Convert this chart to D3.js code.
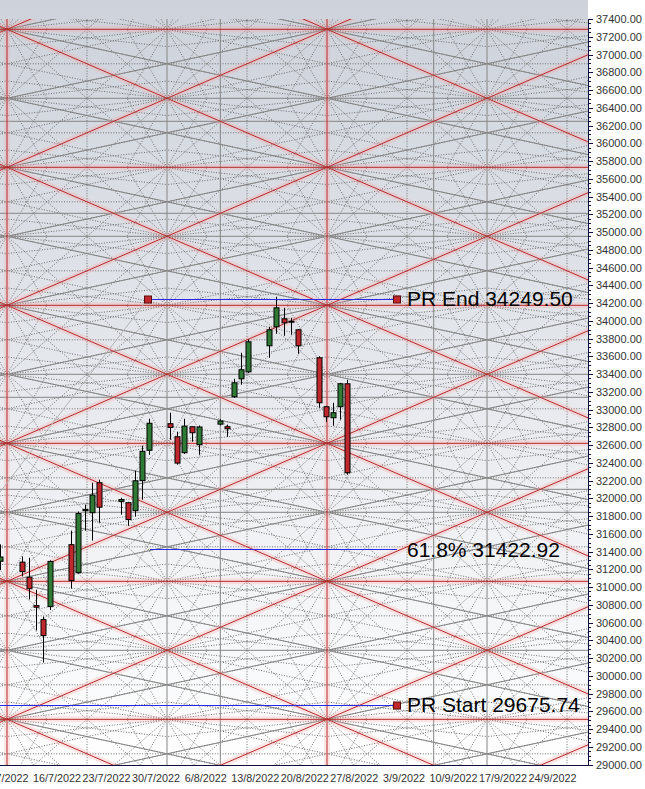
<!DOCTYPE html>
<html><head><meta charset="utf-8">
<script src="https://cdn.jsdelivr.net/npm/d3@7"></script>
<style>html,body{margin:0;padding:0;background:#fff}svg{display:block}</style>
</head><body>
<script>
// ---------------- data ----------------
const candleDates = ["2022-07-08","2022-07-11","2022-07-12","2022-07-13","2022-07-14","2022-07-15",
  "2022-07-18","2022-07-19","2022-07-20","2022-07-21","2022-07-22",
  "2022-07-25","2022-07-26","2022-07-27","2022-07-28","2022-07-29",
  "2022-08-01","2022-08-02","2022-08-03","2022-08-04","2022-08-05",
  "2022-08-08","2022-08-09","2022-08-10","2022-08-11","2022-08-12",
  "2022-08-15","2022-08-16","2022-08-17","2022-08-18","2022-08-19",
  "2022-08-22","2022-08-23","2022-08-24","2022-08-25","2022-08-26"];
const opens  = [31290,31280,31110,30790,30633,30779, 31477,31162,31860,31837,32175, 31965,31950,31860,32198,32540, 32840,32693,32513,32806,32603, 32835,32806,33144,33346,33425, 33718,33932,34022,33985,33898, 33583,33031,32907,33031,33290];
const highs  = [31480,31345,31330,30970,30667,31300, 31635,31850,31928,32175,32209, 32006,31960,32310,32592,32896, 32964,32750,32896,32810,32820, 32890,32830,33346,33639,33790, 33932,34270,34146,34033,33905, 33600,33040,33076,33300,33335];
const lows   = [31190,31120,30860,30510,30149,30740, 30982,31150,31635,31522,31725, 31815,31690,31793,31984,32490, 32660,32378,32500,32637,32490, 32820,32693,33132,33279,33410, 33583,33853,33830,33842,33628, 33020,32860,32817,32885,32265];
const closes = [31338,31173,30981,30772,30453,31288, 31072,31827,31874,32036,31899, 31985,31761,32197,32529,32845, 32798,32396,32813,32738,32803, 32870,32783,33301,33448,33763, 33898,34146,33977,33995,33718, 33076,32918,32964,33290,32288];

const priceTicks = d3.range(29000, 37400.1, 200);
const dateTicks = ["2022-07-09","2022-07-16","2022-07-23","2022-07-30","2022-08-06","2022-08-13",
  "2022-08-20","2022-08-27","2022-09-03","2022-09-10","2022-09-17","2022-09-24"];

// price-range (PR) levels
const levelNames  = ["PR End", "61.8%", "PR Start"];
const levelValues = [34249.50, 31422.92, 29675.74];
const prStartDate = "2022-06-15T00:00";
const prEndDate   = "2022-07-28T20:30";
const labelDate   = "2022-09-02T00:30";

// Gann grid anchors
const gannOriginDate  = "2022-07-08T22:30";
const gannCellDays    = 45.2;
const gannOriginPrice = 37284;
const gannCellPrice   = 1555;
const fanSlopes = [0.25, 0.5, 2, 4];

// ---------------- setup ----------------
const W = 645, H = 789;
const P = {left:0, right:588, top:19, bottom:765.5};
const pd = s => new Date(s.length > 10 ? s + ":00Z" : s + "T00:00:00Z");

const x = d3.scaleUtc().domain([pd("2022-07-16"), pd("2022-09-24")]).range([57, 57 + 70*7.08]);
const y = d3.scaleLinear().domain([29000, 37400]).range([764.5, 19]);

const svg = d3.select("body").append("svg").attr("width", W).attr("height", H)
  .style("font-family", "Arial, 'Liberation Sans', sans-serif");

const defs = svg.append("defs");
const grad = defs.append("linearGradient").attr("id","bg").attr("x1",0).attr("y1",0).attr("x2",0).attr("y2",1);
grad.append("stop").attr("offset","0%").attr("stop-color","#cdd2db");
grad.append("stop").attr("offset","100%").attr("stop-color","#ffffff");
defs.append("clipPath").attr("id","clip").append("rect")
  .attr("x",P.left).attr("y",P.top).attr("width",P.right-P.left).attr("height",P.bottom-P.top);

svg.append("rect").attr("x",0).attr("y",0).attr("width",P.right).attr("height",P.bottom).attr("fill","url(#bg)");

const g = svg.append("g").attr("clip-path","url(#clip)");

// Gann helpers
const g0 = pd(gannOriginDate).getTime();
const gx = u => x(new Date(g0 + u*gannCellDays*864e5));
const gy = v => y(gannOriginPrice - v*gannCellPrice);
const seg = (u1,v1,u2,v2) => `M${gx(u1)},${gy(v1)}L${gx(u2)},${gy(v2)}`;

const U0=-1, U1=3, V0=-1, V1=6;

// dotted quarter grid
let dq = "";
for (let k=U0*4; k<=U1*4; k++) if (k%2 !== 0) dq += seg(k/4, V0, k/4, V1);
for (let k=V0*4; k<=V1*4; k++) if (k%2 !== 0) dq += seg(U0, k/4, U1, k/4);
// fan rays from each half-node
for (let a=U0*2; a<=U1*2; a++) for (let b=V0*2; b<=V1*2; b++) {
  const u=a/2, v=b/2;
  for (const sx of [-1,1]) for (const sy of [-1,1]) for (const k of fanSlopes) {
    const du = k<1 ? 0.5 : 0.5/k, dv = k<1 ? 0.5*k : 0.5;
    dq += seg(u, v, u+sx*du, v+sy*dv);
  }
}
g.append("path").attr("d", dq).attr("fill","none").attr("stroke","#6e6e6e")
  .attr("stroke-width",1).attr("stroke-dasharray","1,1.6");

// solid grey: centre lines, 1x2 lines, third lines
let sg = "";
for (let u=U0; u<U1; u++) sg += seg(u+0.5, V0, u+0.5, V1);
for (let v=V0; v<V1; v++) sg += seg(U0, v+0.5, U1, v+0.5);
for (let u=U0; u<U1; u++) for (let v=V0; v<V1; v++) {
  sg += seg(u,v,u+1,v+0.5) + seg(u,v+0.5,u+1,v+1) + seg(u,v+0.5,u+1,v) + seg(u,v+1,u+1,v+0.5);
}
for (const v of [1-1/3, 1+1/3, 3-1/3, 3+1/3]) sg += seg(U0, v, U1, v);
for (const u of [1-1/3, 1+1/3]) sg += seg(u, V0, u, V1);
g.append("path").attr("d", sg).attr("fill","none").attr("stroke","#858585").attr("stroke-width",1);

// red frame + diagonals
let rd = "";
for (let u=U0; u<=U1; u++) rd += seg(u, V0, u, V1);
for (let v=V0; v<=V1; v++) rd += seg(U0, v, U1, v);
for (let u=U0; u<U1; u++) for (let v=V0; v<V1; v++) rd += seg(u,v,u+1,v+1) + seg(u+1,v,u,v+1);
g.append("path").attr("d", rd).attr("fill","none").attr("stroke","#ff9c9c").attr("stroke-opacity",0.25).attr("stroke-width",6);
g.append("path").attr("d", rd).attr("fill","none").attr("stroke","#b42828").attr("stroke-width",1);

// trend line PR start -> PR end
g.append("line")
  .attr("x1", x(pd(prStartDate))).attr("y1", y(levelValues[2]))
  .attr("x2", x(pd(prEndDate))).attr("y2", y(levelValues[0]))
  .attr("stroke","#b4b4b4").attr("stroke-width",1);

// candles
const candles = candleDates.map((d,i)=>({d:pd(d),o:opens[i],h:highs[i],l:lows[i],c:closes[i]}));
const cg = g.append("g");
candles.forEach(c => {
  const cx = Math.round(x(c.d)) + 0.5;
  cg.append("line").attr("x1",cx).attr("x2",cx).attr("y1",y(c.h)).attr("y2",y(c.l))
    .attr("stroke","#000").attr("stroke-width",1);
  const top = y(Math.max(c.o,c.c)), bot = y(Math.min(c.o,c.c));
  cg.append("rect").attr("x",cx-2.5).attr("width",5)
    .attr("y",top).attr("height",Math.max(1,bot-top))
    .attr("fill", c.c >= c.o ? "#2f7a34" : "#c0282d")
    .attr("stroke","#000").attr("stroke-width",1);
});

// PR levels
const xEnd = x(pd(labelDate));
const starts = [x(pd(prEndDate)), x(pd(prEndDate)) + 2, x(pd(prStartDate))];
levelValues.forEach((v,i) => {
  const yy = Math.round(y(v)) + 0.5;
  g.append("line").attr("x1",starts[i]).attr("x2",xEnd).attr("y1",yy).attr("y2",yy)
    .attr("stroke","#2a2ae6").attr("stroke-width",1.2);
});
const sq = [[x(pd(prEndDate)), levelValues[0]], [xEnd, levelValues[0]], [xEnd, levelValues[2]]];
sq.forEach(([sx,v]) => {
  g.append("rect").attr("x",sx-3.5).attr("y",Math.round(y(v))-3).attr("width",7).attr("height",7)
    .attr("fill","#c0282d").attr("stroke","#5a0a0a").attr("stroke-width",1);
});
levelValues.forEach((v,i) => {
  svg.append("text").attr("x", xEnd + 10).attr("y", y(v) + 7.5)
    .attr("font-size", 21).attr("fill","#000")
    .text(`${levelNames[i]} ${v.toFixed(2)}`);
});

// right axis
const ax = svg.append("g");
ax.append("line").attr("x1",P.right+0.5).attr("x2",P.right+0.5).attr("y1",P.top).attr("y2",P.bottom)
  .attr("stroke","#101040").attr("stroke-width",1);
d3.range(29000, 37400.1, 50).forEach(v => {
  const major = v % 200 === 0;
  ax.append("line").attr("x1",P.right).attr("x2",P.right + (major?5:3))
    .attr("y1",Math.round(y(v))+0.5).attr("y2",Math.round(y(v))+0.5)
    .attr("stroke","#101040").attr("stroke-width",1);
});
priceTicks.forEach(v => {
  ax.append("text").attr("x", 596).attr("y", y(v) + 4).attr("font-size", 11).attr("fill","#333")
    .text(v.toFixed(2));
});

// bottom axis
ax.append("line").attr("x1",0).attr("x2",P.right+0.5).attr("y1",P.bottom).attr("y2",P.bottom)
  .attr("stroke","#101040").attr("stroke-width",1);
dateTicks.forEach(d => {
  const dt = pd(d);
  ax.append("text").attr("x", x(dt)).attr("y", 782).attr("font-size", 10.8).attr("fill","#333")
    .attr("text-anchor","middle")
    .text(`${dt.getUTCDate()}/${dt.getUTCMonth()+1}/${dt.getUTCFullYear()}`);
});
</script>
</body></html>
